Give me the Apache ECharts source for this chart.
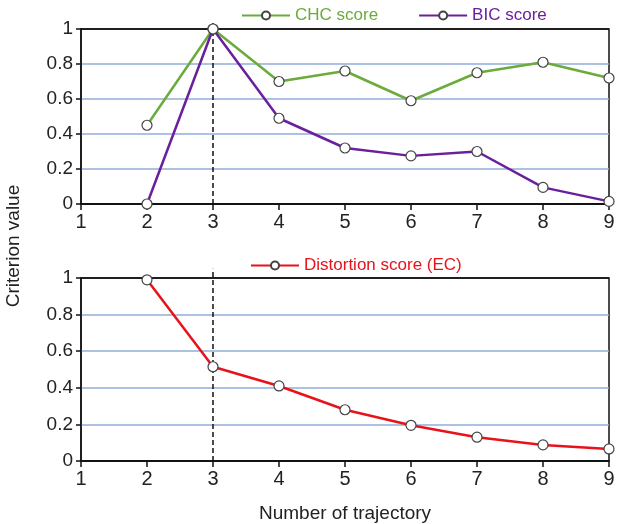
<!DOCTYPE html>
<html>
<head>
<meta charset="utf-8">
<script src="https://cdn.jsdelivr.net/npm/echarts@6/dist/echarts.min.js"></script>
<style>html,body{margin:0;padding:0;background:#fff}#c{width:618px;height:524px}</style>
</head>
<body>
<div id="c"></div>
<script>
var trajectories = [2, 3, 4, 5, 6, 7, 8, 9];
var chcScore = [0.45, 1.0, 0.70, 0.76, 0.59, 0.75, 0.81, 0.72];
var bicScore = [0.0, 1.0, 0.49, 0.32, 0.275, 0.30, 0.095, 0.015];
var distortionScore = [0.99, 0.515, 0.41, 0.28, 0.195, 0.13, 0.088, 0.066];
var optimalK = 3;
var markerSpan = [0, 1.05];

function pairs(xs, ys) { return xs.map(function (x, i) { return [x, ys[i]]; }); }

var FONT = 'Liberation Sans, Arial, sans-serif';
var GREEN = '#6aab3b', PURPLE = '#6a1f9c', RED = '#e8121a';
var GRIDC = '#92acd8';

function xAx(idx, withName) {
  var a = {
    type: 'value', gridIndex: idx, min: 1, max: 9, interval: 1,
    axisLine: { show: true, onZero: false, lineStyle: { color: '#111', width: 1.5 } },
    axisTick: { show: true, length: 6, lineStyle: { color: '#111', width: 1.5 } },
    axisLabel: { color: '#222', fontSize: 20, fontFamily: FONT, margin: 8 },
    splitLine: { show: false }
  };
  if (withName) {
    a.name = 'Number of trajectory';
    a.nameLocation = 'middle';
    a.nameGap = 43;
    a.nameTextStyle = { color: '#222', fontSize: 19, fontFamily: FONT };
  }
  return a;
}
function yAx(idx) {
  return {
    type: 'value', gridIndex: idx, min: 0, max: 1, interval: 0.2,
    axisLine: { show: true, lineStyle: { color: '#111', width: 1.5 } },
    axisTick: { show: true, length: 5, lineStyle: { color: '#111', width: 1.5 } },
    axisLabel: { color: '#222', fontSize: 19, fontFamily: FONT, margin: 8,
      formatter: function (v) { return String(Math.round(v * 10) / 10); } },
    splitLine: { show: true, lineStyle: { color: ['#111', GRIDC, GRIDC, GRIDC, GRIDC, '#111'], width: 1.5 } }
  };
}
function lineSeries(name, color, data, xi) {
  return {
    name: name, type: 'line', xAxisIndex: xi, yAxisIndex: xi,
    data: data, symbol: 'circle', symbolSize: 10,
    lineStyle: { color: color, width: 2.5 },
    itemStyle: { color: '#fff', borderColor: '#444', borderWidth: 1.2 },
    emphasis: { disabled: true }, z: 5, clip: false
  };
}
function dashSeries(xi) {
  return {
    name: 'optimal', type: 'line', xAxisIndex: xi, yAxisIndex: xi,
    data: markerSpan.map(function (y) { return [optimalK, y]; }),
    symbol: 'none', clip: false, silent: true, z: 4,
    lineStyle: { color: '#111', type: [5, 3], width: 1.5 },
    emphasis: { disabled: true }
  };
}

var chart = echarts.init(document.getElementById('c'), null, { renderer: 'canvas' });
chart.setOption({
  animation: false,
  backgroundColor: '#fff',
  grid: [
    { left: 81, right: 9, top: 29, height: 175, show: true, borderColor: '#111', borderWidth: 1.5, backgroundColor: 'transparent' },
    { left: 81, right: 9, top: 278, height: 183, show: true, borderColor: '#111', borderWidth: 1.5, backgroundColor: 'transparent' }
  ],
  legend: [
    { data: [{ name: 'CHC score', textStyle: { color: GREEN } }, { name: 'BIC score', textStyle: { color: PURPLE } }],
      top: 2, left: 236, itemWidth: 48, itemHeight: 10, itemGap: 40,
      textStyle: { fontSize: 17, fontFamily: FONT } },
    { data: [{ name: 'Distortion score (EC)', textStyle: { color: RED } }],
      top: 252, left: 245, itemWidth: 48, itemHeight: 10,
      textStyle: { fontSize: 17, fontFamily: FONT } }
  ],
  xAxis: [xAx(0, false), xAx(1, true)],
  yAxis: [yAx(0), yAx(1)],
  graphic: [{
    type: 'text', rotation: Math.PI / 2,
    x: 4, y: 246,
    style: { text: 'Criterion value', fill: '#222', font: '19px ' + FONT, align: 'center', verticalAlign: 'top' }
  }],
  series: [
    dashSeries(0),
    lineSeries('CHC score', GREEN, pairs(trajectories, chcScore), 0),
    lineSeries('BIC score', PURPLE, pairs(trajectories, bicScore), 0),
    dashSeries(1),
    lineSeries('Distortion score (EC)', RED, pairs(trajectories, distortionScore), 1)
  ]
});
</script>
</body>
</html>
